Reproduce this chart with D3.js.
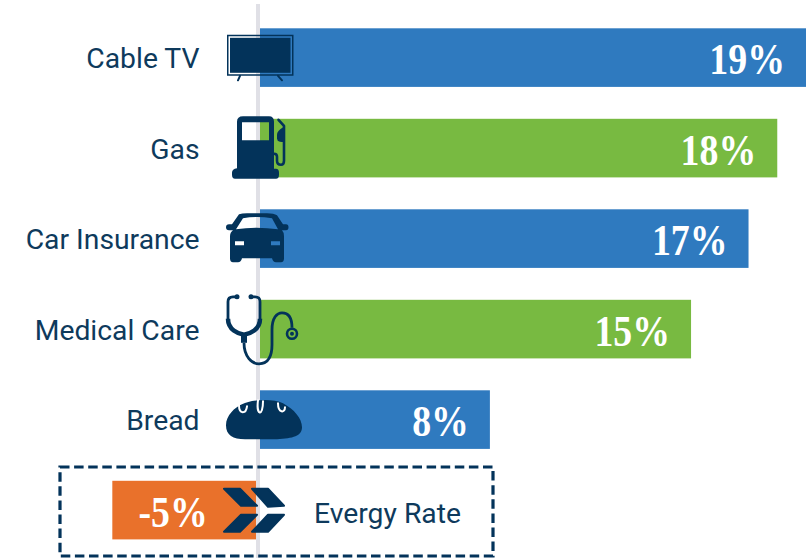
<!DOCTYPE html>
<html><head><meta charset="utf-8">
<script src="https://cdn.jsdelivr.net/npm/d3@7"></script>
<style>html,body{margin:0;padding:0;background:#fff;overflow:hidden}svg{display:block}</style>
</head><body><svg id="c" width="810" height="558"></svg>
<script>
const categories = ["Cable TV","Gas","Car Insurance","Medical Care","Bread","Evergy Rate"];
const values = [19,18,17,15,8,-5];
const valueLabels = ["19%","18%","17%","15%","8%","-5%"];
const barColors = ["#2f7abf","#78ba41","#2f7abf","#78ba41","#2f7abf","#e9712b"];
const icons = ["tv","pump","car","scope","bread","chevrons"];
const navy = "#03335a", labelColor = "#0e3a5c";

const svg = d3.select("#c");
const x = d3.scaleLinear().domain([0,19]).range([260,806]);
const y = d3.scaleBand().domain(categories).range([28.3,539.4]).paddingInner(0.3525).paddingOuter(0);
const lineGap = 4;

svg.append("rect").attr("x",256).attr("y",4).attr("width",4).attr("height",554).attr("fill","#e0e0e6");

svg.append("g").selectAll("rect").data(categories).join("rect")
  .attr("x",(d,i)=>values[i]<0 ? x(values[i])-lineGap : x(0))
  .attr("y",d=>y(d))
  .attr("width",(d,i)=>Math.abs(x(values[i])-x(0)))
  .attr("height",y.bandwidth())
  .attr("fill",(d,i)=>barColors[i]);

svg.append("rect").attr("x",60).attr("y",467).attr("width",433).attr("height",89)
  .attr("fill","none").attr("stroke",navy).attr("stroke-width",3.2).attr("stroke-dasharray","9.5 4.6");

svg.append("g").selectAll("text").data(categories).join("text")
  .attr("x",(d,i)=>values[i]<0 ? 314 : 199.500)
  .attr("y",d=>y(d)+y.bandwidth()/2+(d==="Evergy Rate"?2.5:0.5))
  .attr("dy","0.36em")
  .attr("text-anchor",(d,i)=>values[i]<0 ? "start" : "end")
  .attr("font-family","Roboto").attr("font-size",28.3).attr("fill",labelColor)
  .text(d=>d);

svg.append("g").selectAll("text").data(categories).join("text")
  .attr("transform",(d,i)=>{
    const tx = values[i]<0 ? x(values[i])-lineGap+95.500 : x(values[i])-21;
    return `translate(${tx},${y(d)+y.bandwidth()/2+1}) scale(0.86,1)`;
  })
  .attr("dy","0.36em")
  .attr("text-anchor","end")
  .attr("font-family","Liberation Serif").attr("font-weight",700).attr("font-size",44).attr("fill","#fff")
  .text((d,i)=>valueLabels[i]);

// pictograms, drawn in coordinates local to each row's top edge
const draw = {
  tv(g){
    g.append("path").attr("fill-rule","evenodd").attr("fill",navy)
      .attr("d","M-30,6.500H36.500V47.500H-30ZM-28.500,8V46H35V8Z");
    g.append("rect").attr("x",-27).attr("y",9.500).attr("width",60.500).attr("height",35).attr("fill",navy);
    g.append("path").attr("stroke",navy).attr("stroke-width",2).attr("stroke-linecap","round").attr("fill","none")
      .attr("d","M-17,47.500L-19,52M21,47.500L25,52");
  },
  pump(g){
    g.append("path").attr("fill-rule","evenodd").attr("fill",navy)
      .attr("d","M-14,-2.500H12Q17,-2.500 17,3V50H19Q22,50 22,54V56Q22,60 19,60H-22Q-25,60 -25,56V54Q-25,50 -20,49.500V3Q-20,-2.500 -14,-2.500ZM-15,3.500V21.500H12V3.500Z");
    g.append("path").attr("fill","none").attr("stroke",navy).attr("stroke-width",2.6).attr("stroke-linecap","round").attr("stroke-linejoin","round")
      .attr("d","M21.500,1L27,7V42Q27,46 24,46Q20,46 20,42V38Q20,35 17,35");
    g.append("path").attr("fill",navy).attr("d","M27,8Q20,12 20,16V20Q21,24 27,23Z");
  },
  car(g){
    g.append("path").attr("fill-rule","evenodd").attr("fill",navy)
      .attr("d","M-18,5Q-15,4 -10,4H10Q17,4 20,6L26,15H29Q31.500,15 31.500,18T29,21H25Q27,23 27,27V49Q27,53 24,53H19Q16,53 15,49H-15Q-16,53 -19,53H-24Q-27,53 -27,49V27Q-27,23 -24,21H-28Q-31,21 -31,18T-28,15H-25ZM-14,9L-21,20Q-1,17 21,20L15,9Q0,6.500 -14,9ZM-22,32V36H-13V32ZM14,32V36H23V32Z");
  },
  scope(g){
    g.append("path").attr("fill","none").attr("stroke",navy).attr("stroke-width",2.8).attr("stroke-linecap","round")
      .attr("d","M-21,-3H-24Q-29,-3 -29,2V19M-5,-3H-2Q3,-3 3,2V19");
    g.append("path").attr("fill","none").attr("stroke",navy).attr("stroke-width",4.500)
      .attr("d","M-29,19C-29,30 -19,34 -13,35C-7,34 3,30 3,19");
    g.append("circle").attr("cx",-20).attr("cy",-3).attr("r",2.500).attr("fill",navy);
    g.append("circle").attr("cx",-6).attr("cy",-3).attr("r",2.500).attr("fill",navy);
    g.append("rect").attr("x",-16).attr("y",34).attr("width",6).attr("height",9).attr("fill",navy);
    g.append("path").attr("fill","none").attr("stroke",navy).attr("stroke-width",2.800)
      .attr("d","M-13,43C-13,57 -5,64 2,64C12,64 15,55 15,45V30C15,18 20,13 25,13C31,13 35,17 35,28");
    g.append("circle").attr("cx",35).attr("cy",34).attr("r",5).attr("fill","none").attr("stroke",navy).attr("stroke-width",2.600);
    g.append("circle").attr("cx",35).attr("cy",34).attr("r",2).attr("fill",navy);
  },
  bread(g){
    g.append("path").attr("fill",navy)
      .attr("d","M-31,35C-31,25 -22,17 -15,14C-5,9 16,8 26,13C37,19 45,28 45,37C45,46 36,48 20,49H-12C-24,49 -31,45 -31,35Z");
    g.append("path").attr("fill","none").attr("stroke","#fff").attr("stroke-width",2).attr("stroke-linecap","round")
      .attr("d","M-18,15C-18,24 -11,24 -10,16M1,10C-1,25 6,27 6,11M21,13C21,23 28,23 28,17");
  },
  chevrons(g){
    g.append("path").attr("fill",navy).attr("stroke",navy).attr("stroke-width",2).attr("stroke-linejoin","round")
      .attr("d","M-33,8H-17L0,25H-16ZM-33,51L-16,34H0L-17,51ZM-5,8H11L27,25L11,26ZM-5,51L11,34H27L11,51Z");
  }
};
svg.append("g").selectAll("g").data(categories).join("g")
  .attr("transform",d=>`translate(${x(0)-3},${y(d)})`)
  .each(function(d,i){ draw[icons[i]](d3.select(this)); });
</script></body></html>
